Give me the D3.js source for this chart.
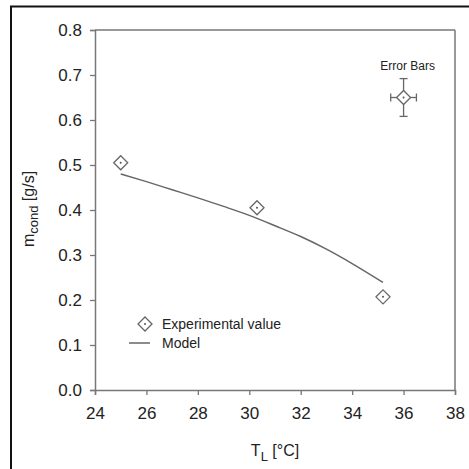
<!DOCTYPE html>
<html>
<head>
<meta charset="utf-8">
<script src="https://cdn.jsdelivr.net/npm/d3@7"></script>
<style>
  body { margin: 0; background: #fff; }
  text { font-family: "Liberation Sans", Arial, sans-serif; fill: #222; }
</style>
</head>
<body>
<div id="chart"></div>
<script>
// experimental points
var expT = [25.0, 30.3, 35.2];
var expM = [0.505, 0.405, 0.207];

// model curve
var modelT = [25, 26, 27, 28, 29, 30, 31, 32, 33, 34, 35.2];
var modelM = [0.480, 0.463, 0.445, 0.427, 0.408, 0.388, 0.365, 0.341, 0.313, 0.281, 0.239];

// error bar sample
var errT = [36.0];
var errM = [0.650];
var errDT = [0.5];
var errDM = [0.042];

var xTicks = [24, 26, 28, 30, 32, 34, 36, 38];
var yTicks = [0.0, 0.1, 0.2, 0.3, 0.4, 0.5, 0.6, 0.7, 0.8];

var W = 469, H = 469;
var margin = {top: 30, right: 14, bottom: 79, left: 95};
var width = W - margin.left - margin.right,
    height = H - margin.top - margin.bottom;

var svg = d3.select('#chart')
    .append('svg')
    .attr('width', W)
    .attr('height', H);

// outer black frame (top and left only, as in the scan)
svg.append('line').attr('x1', 10).attr('x2', W).attr('y1', 6.5).attr('y2', 6.5)
    .attr('stroke', '#111').attr('stroke-width', 2);
svg.append('line').attr('x1', 11).attr('x2', 11).attr('y1', 6).attr('y2', H)
    .attr('stroke', '#111').attr('stroke-width', 2);

var g = svg.append('g').attr('transform', 'translate(' + margin.left + ',' + margin.top + ')');

var x = d3.scaleLinear().domain([24, 38]).range([0, width]);
var y = d3.scaleLinear().domain([0, 0.8]).range([height, 0]);

var grey = '#777';

var xAxis = g.append('g')
    .attr('transform', 'translate(0,' + height + ')')
    .call(d3.axisBottom(x).tickValues(xTicks).tickSize(5).tickPadding(12).tickFormat(d3.format('d')));
var yAxis = g.append('g')
    .call(d3.axisLeft(y).tickValues(yTicks).tickSize(5).tickPadding(8).tickFormat(d3.format('.1f')));

[xAxis, yAxis].forEach(function(a) {
    a.select('.domain').attr('stroke', grey).attr('stroke-width', 1.5);
    a.selectAll('.tick line').attr('stroke', grey).attr('stroke-width', 1.3);
    a.selectAll('.tick text')
        .attr('font-size', 17)
        .attr('fill', '#222')
        .attr('font-family', '"Liberation Sans", Arial, sans-serif');
});

// box top and right
g.append('line').attr('x1', 0).attr('x2', width).attr('y1', 0).attr('y2', 0)
    .attr('stroke', grey).attr('stroke-width', 1.5);
g.append('line').attr('x1', width).attr('x2', width).attr('y1', 0).attr('y2', height)
    .attr('stroke', grey).attr('stroke-width', 1.5);

// model line
var modelData = modelT.map(function(t, i) { return [t, modelM[i]]; });
var line = d3.line()
    .x(function(d) { return x(d[0]); })
    .y(function(d) { return y(d[1]); })
    .curve(d3.curveMonotoneX);
g.append('path')
    .datum(modelData)
    .attr('d', line)
    .attr('fill', 'none')
    .attr('stroke', '#666')
    .attr('stroke-width', 1.5);

// diamond marker helper
function diamond(sel, cx, cy) {
    var r = 7;
    sel.append('path')
        .attr('d', 'M' + cx + ',' + (cy - r) + 'L' + (cx + r) + ',' + cy + 'L' + cx + ',' + (cy + r) + 'L' + (cx - r) + ',' + cy + 'Z')
        .attr('fill', '#fff')
        .attr('stroke', '#666')
        .attr('stroke-width', 1.3);
    sel.append('circle')
        .attr('cx', cx).attr('cy', cy).attr('r', 1)
        .attr('fill', '#555');
}

var expData = expT.map(function(t, i) { return [t, expM[i]]; });
expData.forEach(function(d) {
    diamond(g, x(d[0]), y(d[1]));
});

// error bars sample
errT.forEach(function(t, i) {
    var cx = x(t), cy = y(errM[i]);
    var x0 = x(t - errDT[i]), x1 = x(t + errDT[i]);
    var y0 = y(errM[i] + errDM[i]), y1 = y(errM[i] - errDM[i]);
    var eb = g.append('g').attr('stroke', '#666').attr('stroke-width', 1.3);
    eb.append('line').attr('x1', cx).attr('x2', cx).attr('y1', y0).attr('y2', y1);
    eb.append('line').attr('x1', cx - 4).attr('x2', cx + 4).attr('y1', y0).attr('y2', y0);
    eb.append('line').attr('x1', cx - 4).attr('x2', cx + 4).attr('y1', y1).attr('y2', y1);
    eb.append('line').attr('x1', x0).attr('x2', x1).attr('y1', cy).attr('y2', cy);
    eb.append('line').attr('x1', x0).attr('x2', x0).attr('y1', cy - 4).attr('y2', cy + 4);
    eb.append('line').attr('x1', x1).attr('x2', x1).attr('y1', cy - 4).attr('y2', cy + 4);
    diamond(g, cx, cy);
    g.append('text')
        .attr('x', cx + 4)
        .attr('y', y0 - 9)
        .attr('text-anchor', 'middle')
        .attr('font-size', 12)
        .text('Error Bars');
});

// legend
var lg = g.append('g').attr('transform', 'translate(50,294)');
diamond(lg, 0, 0);
lg.append('text').attr('x', 17).attr('y', 5).attr('font-size', 14).text('Experimental value');
lg.append('line').attr('x1', -16).attr('x2', 5).attr('y1', 19).attr('y2', 19)
    .attr('stroke', '#666').attr('stroke-width', 1.5);
lg.append('text').attr('x', 17).attr('y', 24).attr('font-size', 14).text('Model');

// axis titles
var xt = svg.append('text')
    .attr('x', margin.left + width / 2)
    .attr('y', 456)
    .attr('text-anchor', 'middle')
    .attr('font-size', 16);
xt.append('tspan').text('T');
xt.append('tspan').attr('dy', 5).attr('font-size', 13).text('L');
xt.append('tspan').attr('dy', -5).text(' [°C]');

var yt = svg.append('text')
    .attr('transform', 'translate(34,' + (margin.top + height / 2 - 1) + ') rotate(-90)')
    .attr('text-anchor', 'middle')
    .attr('font-size', 16);
yt.append('tspan').text('m');
yt.append('tspan').attr('dy', 4).attr('font-size', 13).text('cond');
yt.append('tspan').attr('dy', -4).text(' [g/s]');
</script>
</body>
</html>
